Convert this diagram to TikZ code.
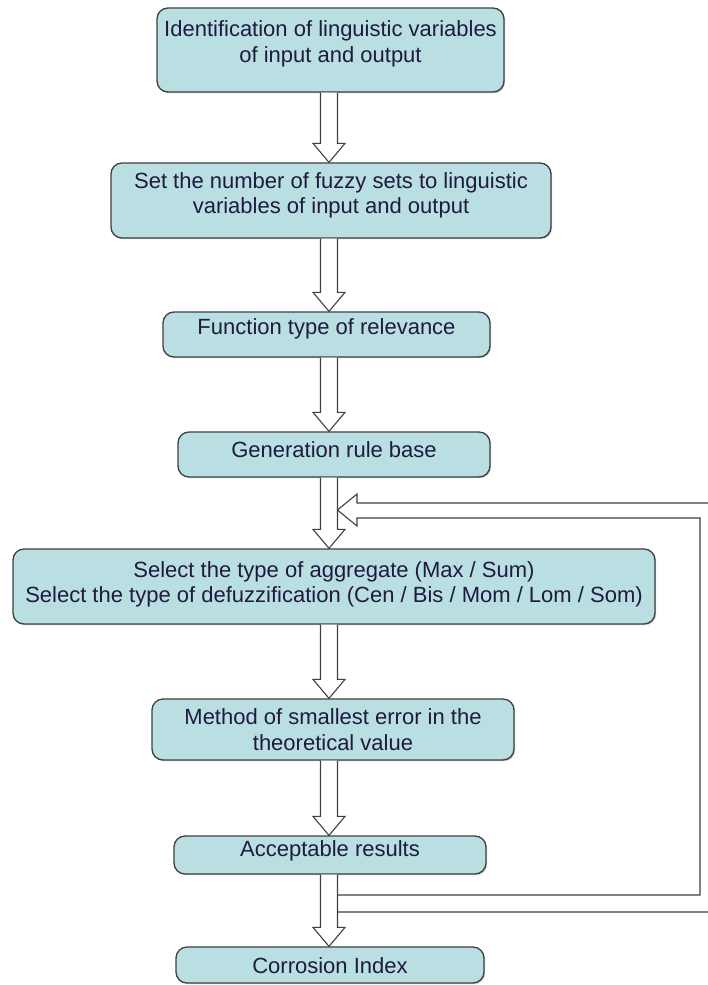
\documentclass[tikz,border=0pt]{standalone}
\usepackage{fontspec}
\setmainfont{Liberation Sans}
\usetikzlibrary{calc,shadows}
\definecolor{boxfill}{RGB}{185,223,227}
\definecolor{boxline}{RGB}{64,64,64}
\definecolor{txtcol}{RGB}{32,26,62}
\tikzset{
  box/.style={draw=boxline, line width=1.3pt, fill=boxfill, rounded corners=11pt,
    drop shadow={shadow xshift=1.2pt, shadow yshift=-1.2pt, fill=black!40, opacity=0.5},
    inner sep=0pt},
  txt/.style={font=\fontsize{22}{25.5}\selectfont, text=txtcol, align=center, inner sep=0pt},
  hollow/.style={draw=boxline, line width=1.1pt, fill=white, line join=miter},
  loopline/.style={draw=boxline, line width=1.1pt, line join=miter},
}
\newcommand\blockarr[2]{%
  \draw[hollow] let \p1=(#1.south), \p2=(#2.north), \p3=(ax) in
  (\x3-8.5pt,\y1) -- (\x3-8.5pt,\y2+19pt) -- (\x3-16pt,\y2+19pt) -- (\x3,\y2)
  -- (\x3+16pt,\y2+19pt) -- (\x3+8.5pt,\y2+19pt) -- (\x3+8.5pt,\y1);}
\begin{document}
\begin{tikzpicture}[x=1pt,y=-1pt]
\fill[white] (0,0) rectangle (708,985);
\useasboundingbox (0,0) rectangle (708,985);
\coordinate (ax) at (329,0);

% boxes (drawn as empty shapes; text placed via label)
\path (330.5,50) node[box, minimum width=347pt, minimum height=84pt,
  label={[txt, yshift=6pt]center:Identification of linguistic variables\\of input and output}] (b1) {};
\path (331,200.5) node[box, minimum width=440pt, minimum height=75pt,
  label={[txt, yshift=5pt]center:Set the number of fuzzy sets to linguistic\\variables of input and output}] (b2) {};
\path (326.5,334.5) node[box, minimum width=327pt, minimum height=45pt,
  label={[txt, yshift=6pt]center:Function type of relevance}] (b3) {};
\path (334,454.5) node[box, minimum width=312pt, minimum height=45pt,
  label={[txt, yshift=5pt]center:Generation rule base}] (b4) {};
\path (334,586.5) node[box, minimum width=642pt, minimum height=75pt,
  label={[txt, yshift=2pt]center:Select the type of aggregate (Max / Sum)\\Select the type of defuzzification (Cen / Bis / Mom / Lom / Som)}] (b5) {};
\path (333,729.5) node[box, minimum width=362pt, minimum height=61pt,
  label={[txt]center:Method of smallest error in the\\theoretical value}] (b6) {};
\path (330,855) node[box, minimum width=312pt, minimum height=38pt,
  label={[txt, yshift=4pt]center:Acceptable results}] (b7) {};
\path (330,965) node[box, minimum width=308pt, minimum height=36pt,
  label={[txt, yshift=-1pt]center:Corrosion Index}] (b8) {};

% hollow block arrows
\blockarr{b1}{b2}
\blockarr{b2}{b3}
\blockarr{b3}{b4}
\blockarr{b4}{b5}
\blockarr{b5}{b6}
\blockarr{b6}{b7}
\blockarr{b7}{b8}

% feedback loop (double line with open head)
\coordinate (fbin) at (337.5,895);
\coordinate (fbout) at (337.5,912);
\coordinate (fbtip) at (337.5,510);
\draw[loopline] (fbout) -- (714,912) -- (714,503) -- (357,503) -- (357,494)
  -- (fbtip) -- (357,526) -- (357,518) -- (700,518) -- (700,895) -- (fbin);
\end{tikzpicture}
\end{document}
